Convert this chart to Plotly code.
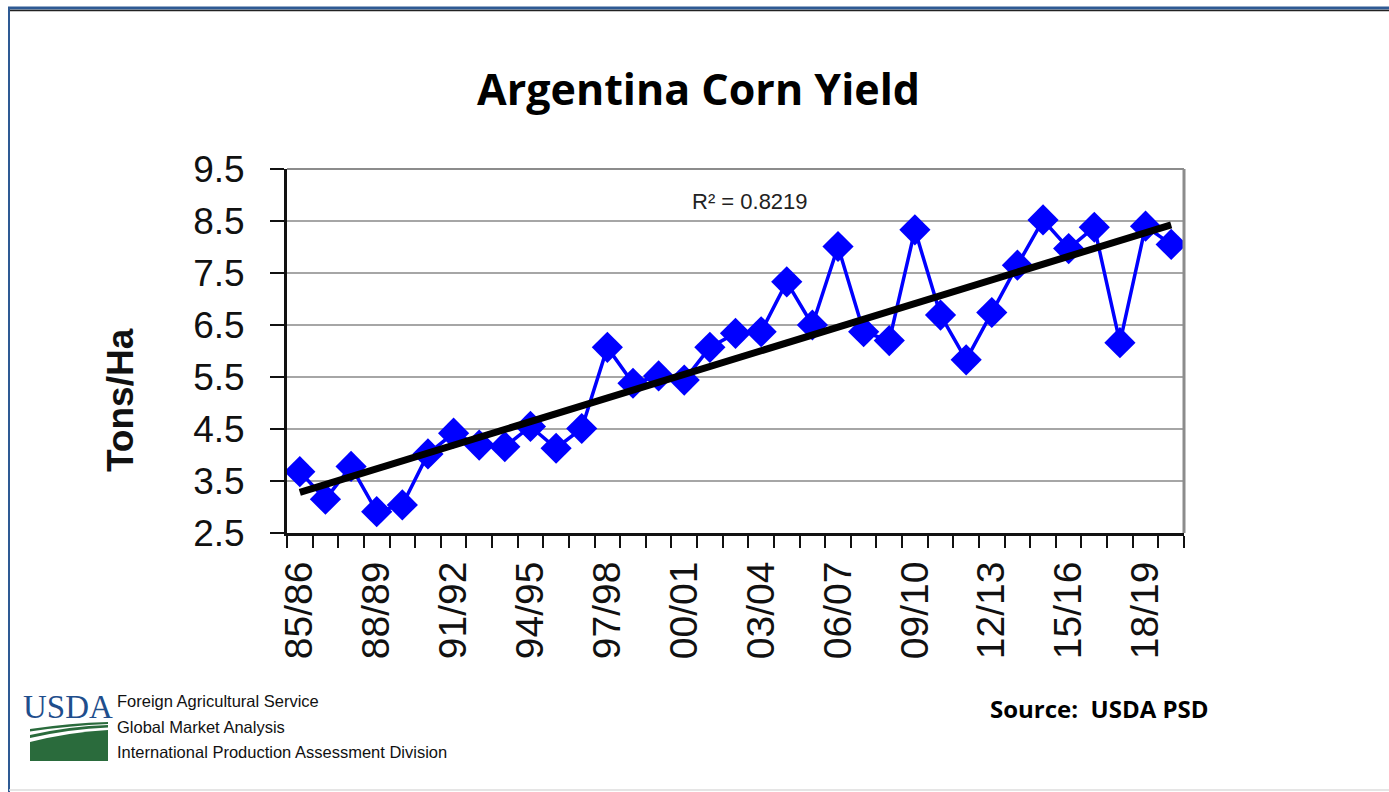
import numpy as np
import plotly.graph_objects as go

# ---------------- data ----------------
years = ["85/86", "86/87", "87/88", "88/89", "89/90", "90/91", "91/92", "92/93",
         "93/94", "94/95", "95/96", "96/97", "97/98", "98/99", "99/00", "00/01",
         "01/02", "02/03", "03/04", "04/05", "05/06", "06/07", "07/08", "08/09",
         "09/10", "10/11", "11/12", "12/13", "13/14", "14/15", "15/16", "16/17",
         "17/18", "18/19", "19/20"]
yields = [3.68, 3.15, 3.78, 2.91, 3.04, 4.02, 4.42, 4.19, 4.16, 4.55,
          4.13, 4.51, 6.07, 5.38, 5.52, 5.44, 6.07, 6.34, 6.37, 7.33,
          6.50, 8.01, 6.37, 6.20, 8.33, 6.69, 5.83, 6.74, 7.65, 8.52,
          7.97, 8.38, 6.16, 8.40, 8.05]
y_ticks = [2.5, 3.5, 4.5, 5.5, 6.5, 7.5, 8.5, 9.5]
r2_text = "R² = 0.8219"
title_text = "Argentina Corn Yield"
source_text = "Source:  USDA PSD"
fas_lines = ["Foreign Agricultural Service", "Global Market Analysis",
             "International Production Assessment Division"]

W, H = 1389, 792
idx = np.arange(len(years))
coef = np.polyfit(idx, yields, 1)
trend = np.polyval(coef, idx)


def px(x):
    return x / W


def py(y):
    return 1 - y / H


fig = go.Figure()
fig.add_trace(go.Scatter(
    x=idx, y=yields, mode="lines+markers",
    line=dict(color="#0000FF", width=3.5),
    marker=dict(symbol="diamond", size=24, color="#0000FF"),
    showlegend=False, hoverinfo="x+y"))
fig.add_trace(go.Scatter(
    x=idx, y=trend, mode="lines",
    line=dict(color="#000000", width=7),
    showlegend=False, hoverinfo="skip"))

fig.update_layout(
    width=W, height=H,
    margin=dict(l=0, r=0, t=0, b=0, autoexpand=False),
    paper_bgcolor="white", plot_bgcolor="white",
    xaxis=dict(
        domain=[px(287), px(1184)],
        range=[-0.5, len(years) - 0.5],
        tickvals=idx[::3], ticktext=years[::3],
        tickangle=-90, ticks="", automargin=False,
        tickfont=dict(family="Liberation Sans, Arial", size=39, color="#111"),
        ticklabelstandoff=10,
        showgrid=False, zeroline=False,
        showline=True, linecolor="#111", linewidth=3,
        minor=dict(tickvals=np.arange(-0.5, len(years), 1.0), ticks="outside",
                   ticklen=12, tickwidth=2, tickcolor="#111", showgrid=False),
    ),
    yaxis=dict(
        domain=[py(533), py(169)],
        range=[2.5, 9.5], automargin=False,
        tickvals=y_ticks, ticktext=[f"{v:.1f}" for v in y_ticks],
        ticks="outside", ticklen=14, tickwidth=2, tickcolor="#111",
        tickfont=dict(family="Liberation Sans, Arial", size=37, color="#111"),
        ticklabelstandoff=18,
        showgrid=True, gridcolor="#a6a6a6", gridwidth=2,
        zeroline=False, showline=True, linecolor="#111", linewidth=3,
    ),
)

shapes = [
    # plot area right / top border
    dict(type="line", xref="paper", yref="paper", x0=px(1184), x1=px(1184),
         y0=py(533), y1=py(169), line=dict(color="#8c8c8c", width=3)),
    dict(type="line", xref="paper", yref="paper", x0=px(287), x1=px(1184),
         y0=py(169), y1=py(169), line=dict(color="#8c8c8c", width=2)),
    # outer frame
    dict(type="line", xref="paper", yref="paper", x0=px(8), x1=1,
         y0=py(8), y1=py(8), line=dict(color="#2e5a94", width=3)),
    dict(type="line", xref="paper", yref="paper", x0=px(8), x1=1,
         y0=py(10.5), y1=py(10.5), line=dict(color="#222222", width=1.5)),
    dict(type="line", xref="paper", yref="paper", x0=px(9), x1=px(9),
         y0=py(8), y1=0, line=dict(color="#2e5a94", width=2)),
    dict(type="line", xref="paper", yref="paper", x0=px(9), x1=1,
         y0=py(790), y1=py(790), line=dict(color="#dddddd", width=1.5)),
    # USDA logo field (green)
    dict(type="path", xref="paper", yref="paper",
         path=(f"M {px(30)},{py(742)} Q {px(70)},{py(732)} {px(108)},{py(730)} "
               f"L {px(108)},{py(761)} L {px(30)},{py(761)} Z"),
         fillcolor="#2a6b3c", line=dict(width=0)),
    dict(type="path", xref="paper", yref="paper",
         path=(f"M {px(30)},{py(735)} Q {px(70)},{py(726)} {px(108)},{py(725)} "
               f"L {px(108)},{py(727.5)} Q {px(70)},{py(729)} {px(30)},{py(738)} Z"),
         fillcolor="#2a6b3c", line=dict(width=0)),
    dict(type="path", xref="paper", yref="paper",
         path=(f"M {px(30)},{py(729)} Q {px(70)},{py(723)} {px(108)},{py(722)} "
               f"L {px(108)},{py(724)} Q {px(70)},{py(725.5)} {px(30)},{py(731.5)} Z"),
         fillcolor="#2a6b3c", line=dict(width=0)),
]
fig.update_layout(shapes=shapes)

annotations = [
    dict(text=f"<b>{title_text}</b>", x=px(698), y=py(88), xref="paper", yref="paper",
         showarrow=False, xanchor="center", yanchor="middle",
         font=dict(family="Open Sans", size=43, color="#000")),
    dict(text="<b>Tons/Ha</b>", x=px(120), y=py(400), xref="paper", yref="paper",
         showarrow=False, xanchor="center", yanchor="middle", textangle=-90,
         font=dict(family="Liberation Sans, Arial", size=37, color="#111")),
    dict(text=r2_text, x=px(750), y=py(201), xref="paper", yref="paper",
         showarrow=False, xanchor="center", yanchor="middle",
         font=dict(family="Liberation Sans, Arial", size=22, color="#222")),
    dict(text=f"<b>{source_text}</b>", x=px(1099), y=py(708), xref="paper", yref="paper",
         showarrow=False, xanchor="center", yanchor="middle",
         font=dict(family="Open Sans", size=24, color="#000")),
    dict(text="USDA", x=px(68), y=py(707), xref="paper", yref="paper",
         showarrow=False, xanchor="center", yanchor="middle",
         font=dict(family="Liberation Serif, Times New Roman", size=33, color="#1f4e8c")),
]
for i, line in enumerate(fas_lines):
    annotations.append(dict(
        text=line, x=px(115), y=py(701 + 25.5 * i), xref="paper", yref="paper",
        showarrow=False, xanchor="left", yanchor="middle",
        font=dict(family="Liberation Sans Narrow, Arial Narrow, Liberation Sans",
                  size=16.5, color="#111")))
fig.update_layout(annotations=annotations)

fig.write_html("out.html")
